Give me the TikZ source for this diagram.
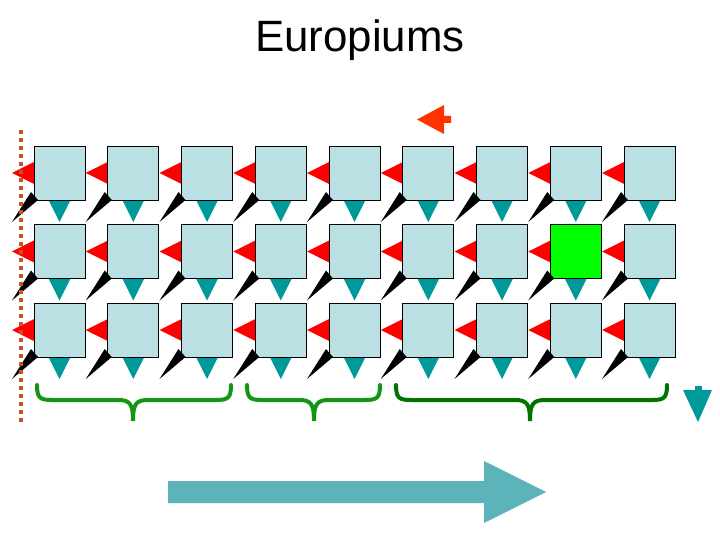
\documentclass[tikz,border=0pt]{standalone}
\usepackage{fontspec}
\setmainfont{Liberation Sans}
\usetikzlibrary{backgrounds}
\definecolor{cellblue}{RGB}{187,224,227}
\definecolor{spinred}{RGB}{255,0,0}
\definecolor{spinteal}{RGB}{0,153,153}
\definecolor{fieldred}{RGB}{255,51,0}
\definecolor{dotorange}{RGB}{200,82,40}
\definecolor{bracegreen}{RGB}{20,150,20}
\definecolor{bracedark}{RGB}{0,115,0}
\definecolor{flowteal}{RGB}{92,179,186}
\begin{document}
\begin{tikzpicture}[x=1bp, y=-1bp, line join=miter,
	cell/.style={draw, fill=cellblue, line width=0.8bp, minimum width=51bp, minimum height=54bp, inner sep=0pt, outer sep=0pt},
	brace/.style={line width=4bp, line cap=round}]
	\useasboundingbox (0,0) rectangle (720,540);

	% Titel
	\node[font=\fontsize{44}{50}\selectfont, anchor=base] (title) at (360,52) {Europiums};

	% Gitter der Zellen
	\foreach \r/\y in {1/173,2/251.5,3/330}
		\foreach \c in {1,...,9}
			\node[cell] (s\r\c) at ({59.5+73.75*(\c-1)},\y) {};
	\node[cell, fill=green] (hit) at (s28) {};

	% Spins hinter den Zellen
	\begin{scope}[on background layer]
		\foreach \r in {1,2,3}
			\foreach \c in {1,...,9} {
				\fill[spinred] ([yshift=11bp]s\r\c.west) -- ++(-22,11) -- ++(22,11) -- cycle;
				\fill[spinteal] ([xshift=-11bp]s\r\c.south) -- ++(11,22) -- ++(11,-22) -- cycle;
			}
	\end{scope}
	\foreach \r in {1,2,3}
		\foreach \c in {1,...,9}
			\fill[black] ([shift={(-3,-8)}]s\r\c.south west) -- ++(-19,30) -- ++(26,-22) -- cycle;

	% Feld oben und rechts
	\coordinate (fieldtip) at (417,119.5);
	\fill[fieldred] (fieldtip) -- (444,105) -- (444,116) -- (451,116) -- (451,123) -- (444,123) -- (444,134) -- cycle;
	\coordinate (downtip) at (698,422);
	\fill[spinteal] (downtip) -- (683,390) -- (695,390) -- (695,386) -- (702,386) -- (702,390) -- (712,390) -- cycle;

	% Rand gepunktet
	\coordinate (edgetop) at (21,130);
	\coordinate (edgebot) at (21,426);
	\draw[dotorange, line width=4bp, dash pattern=on 4bp off 4bp] (edgetop) -- (edgebot);

	% Klammern
	\foreach \a/\m/\b/\col in {37/133/231/bracegreen, 247/314/380/bracegreen, 396/530/667/bracedark}
		\draw[brace, \col] (\a,385) .. controls (\a,398) and (\a+3,400) .. (\a+15,400) -- (\m-15,400)
			.. controls (\m-3,400) and (\m,404) .. (\m,421)
			.. controls (\m,404) and (\m+3,400) .. (\m+15,400) -- (\b-15,400)
			.. controls (\b-3,400) and (\b,398) .. (\b,385);

	% Richtung
	\coordinate (flowstart) at (168,492);
	\fill[flowteal] (168,481) -- (484,481) -- (484,461) -- (546,492) -- (484,523) -- (484,503) -- (168,503) -- cycle;
\end{tikzpicture}
\end{document}
